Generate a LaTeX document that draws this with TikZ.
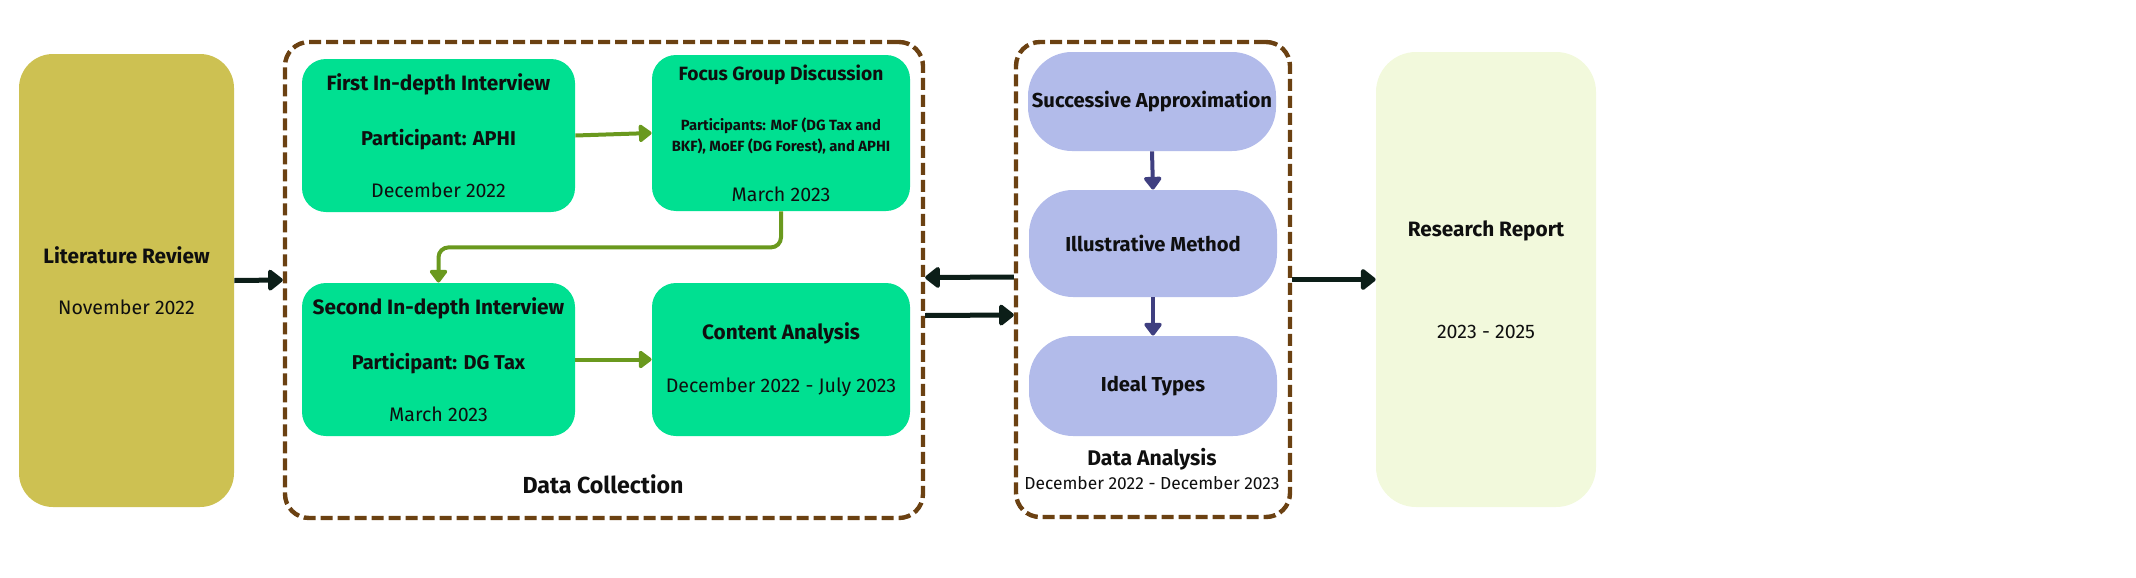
\documentclass[tikz,border=0pt]{standalone}
\usepackage{fontspec}
\setmainfont{Fira Sans}
\usetikzlibrary{arrows.meta,positioning}

\definecolor{litcol}{RGB}{205,193,82}
\definecolor{boxgreen}{RGB}{0,224,145}
\definecolor{boxblue}{RGB}{178,187,234}
\definecolor{repcol}{RGB}{242,249,220}
\definecolor{dashbrown}{RGB}{107,65,18}
\definecolor{arrgreen}{RGB}{106,153,30}
\definecolor{arrblue}{RGB}{63,63,128}
\definecolor{arrdark}{RGB}{12,30,24}
\definecolor{txt}{RGB}{15,15,15}

\newcommand\headtxt[1]{{\bfseries\fontsize{10.4}{10}\selectfont #1}}
\newcommand\parttxt[1]{{\bfseries\fontsize{10}{10}\selectfont #1}}

\begin{document}
\begin{tikzpicture}[x=0.5pt,y=-0.5pt,
    box/.style={inner sep=0pt,align=center,text=txt,font=\fontsize{9.8}{10}\selectfont},
    gbox/.style={box,fill=boxgreen,rounded corners=12pt,minimum width=136.5pt,minimum height=76.5pt},
    pbox/.style={box,fill=boxblue,rounded corners=22pt,minimum width=124pt,font=\bfseries\fontsize{10.1}{10}\selectfont},
    dbox/.style={draw=dashbrown,line width=2.2pt,dash pattern=on 6pt off 2.5pt,rounded corners=12pt,inner sep=0pt},
    darr/.style={draw=arrdark,line width=2.5pt,-{Triangle[length=8pt,width=12pt,round]}},
    garr/.style={draw=arrgreen,line width=2pt,-{Triangle[length=7pt,width=10pt,round]}},
    barr/.style={draw=arrblue,line width=2pt,-{Triangle[length=7pt,width=10pt,round]}}]
  \useasboundingbox (0,0) rectangle (2136,578);

  % group frames
  \node[dbox,minimum width=319pt,minimum height=238pt] (dc) at (604,280) {};
  \node[dbox,minimum width=137pt,minimum height=237.5pt] (da) at (1153,279.5) {};

  \node[box,fill=litcol,rounded corners=17pt,minimum width=107.5pt,minimum height=226.5pt] (lit) at (126.5,280.5)
    {\headtxt{Literature Review}\\[15.5pt]November 2022};

  \node[gbox] (first) at (438.5,135.5)
    {\headtxt{First In-depth Interview}\\[16pt]\parttxt{Participant: APHI}\\[16pt]December 2022};
  \node[gbox,minimum width=129pt,minimum height=78pt] (focus) at (781,133)
    {{\bfseries\fontsize{9.6}{10}\selectfont Focus Group Discussion}\\[15pt]{\bfseries\fontsize{7.4}{9}\selectfont Participants: MoF (DG Tax and}\\[0.5pt]
     {\bfseries\fontsize{7.4}{9}\selectfont BKF), MoEF (DG Forest), and APHI}\\[15pt]March 2023};
  \node[gbox] (second) at (438.5,359.5)
    {\headtxt{Second In-depth Interview}\\[16pt]\parttxt{Participant: DG Tax}\\[16pt]March 2023};
  \node[gbox,minimum width=129pt] (content) at (781,359.5)
    {\headtxt{Content Analysis}\\[16.5pt]December 2022 - July 2023};
  \node[box,font=\bfseries\fontsize{11.6}{10}\selectfont] (dclab) at (603,484) {Data Collection};

  \node[pbox,minimum height=49.5pt] (succ) at (1152,101.5) {Successive Approximation};
  \node[pbox,minimum height=53.5pt] (illu) at (1153,243.5) {Illustrative Method};
  \node[pbox,minimum height=50pt] (ideal) at (1153,386) {Ideal Types};
  \node[box] (dalab) at (1152,469)
    {{\bfseries\fontsize{10.6}{10}\selectfont Data Analysis}\\[2pt]{\fontsize{8.7}{10}\selectfont December 2022 - December 2023}};

  \node[box,fill=repcol,rounded corners=20pt,minimum width=110pt,minimum height=227.5pt] (rep) at (1486,279.5)
    {\headtxt{Research Report}\\[41pt]2023 - 2025};

  % connectors
  \draw[darr] (lit.east) -- (dc.west);
  \draw[garr] (first.east) -- (focus.west);
  \draw[garr,rounded corners=5pt] (focus.south) -- ++(0,36) -| (second.north);
  \draw[garr] (second.east) -- (content.west);
  \draw[darr] ([yshift=1.25pt]da.west) -- ([yshift=1.25pt]dc.east);
  \draw[darr] ([yshift=-17.75pt]dc.east) -- ([yshift=-17.75pt]da.west);
  \draw[barr] (succ.south) -- (illu.north);
  \draw[barr] (illu.south) -- (ideal.north);
  \draw[darr] (da.east) -- (rep.west);
\end{tikzpicture}
\end{document}
